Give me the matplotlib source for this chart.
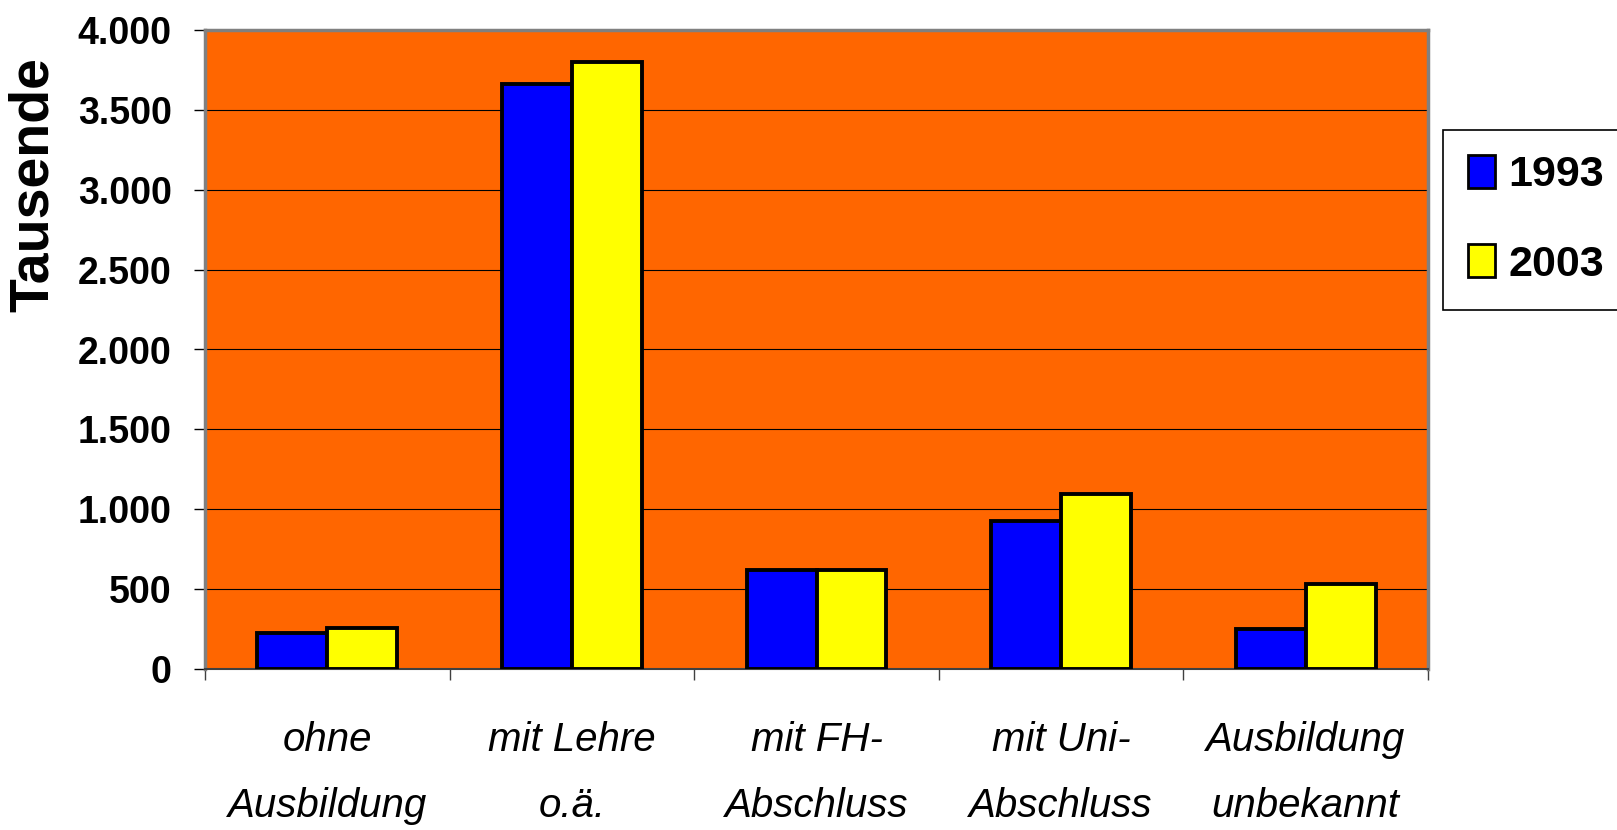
import matplotlib
matplotlib.use("Agg")
import matplotlib.pyplot as plt
import matplotlib.ticker as ticker
import matplotlib.transforms as transforms
from matplotlib.patches import Patch
import numpy as np

categories = ['ohne\nAusbildung', 'mit Lehre\no.ä.', 'mit FH-\nAbschluss',
              'mit Uni-\nAbschluss', 'Ausbildung\nunbekannt']
years = ['1993', '2003']
v1993 = [225, 3660, 620, 926, 250]
v2003 = [255, 3800, 620, 1095, 532]
yticks = [0, 500, 1000, 1500, 2000, 2500, 3000, 3500, 4000]

# no narrow face installed, so plain Arial-metric font at smaller sizes
fam = ['Liberation Sans', 'DejaVu Sans']

fig = plt.figure(figsize=(16.17, 8.3), dpi=100)
ax = fig.add_axes([205/1617, 1 - 669/830, (1428-205)/1617, (669-30)/830])
ax.set_facecolor('#FF6600')

x = np.arange(len(categories))
w = 1 / 3.5  # gap width 150%
ax.bar(x - w/2, v1993, w, color='#0000FF', edgecolor='black', linewidth=2.8, zorder=3)
ax.bar(x + w/2, v2003, w, color='#FFFF00', edgecolor='black', linewidth=2.8, zorder=3)

ax.set_xlim(-0.5, len(categories) - 0.5)
ax.set_ylim(0, 4000)
ax.set_yticks(yticks)
ax.set_yticklabels([f"{v:,}".replace(',', '.') for v in yticks],
                   fontfamily=fam, fontweight='bold', fontsize=27)
ax.yaxis.grid(True, color='black', linewidth=0.8, zorder=1)
ax.set_axisbelow(True)

# category boundaries as ticks, labels as text under the centres
ax.xaxis.set_major_locator(ticker.FixedLocator(np.arange(-0.5, len(categories), 1)))
ax.xaxis.set_major_formatter(ticker.NullFormatter())
ax.tick_params(axis='x', length=8, width=1, color='#404040', direction='out')
ax.tick_params(axis='y', length=8, width=1, color='black', direction='out', pad=16)

trans = transforms.blended_transform_factory(ax.transData, fig.transFigure)
for i, lab in enumerate(categories):
    top, bot = lab.split('\n')
    ax.text(i, 1 - 740/830, top, transform=trans, ha='center', va='center',
            fontfamily=fam, fontstyle='italic', fontsize=29)
    ax.text(i, 1 - 806/830, bot, transform=trans, ha='center', va='center',
            fontfamily=fam, fontstyle='italic', fontsize=29)

for side in ['left', 'top', 'right']:
    ax.spines[side].set_color('#808080')
    ax.spines[side].set_linewidth(2.5)
ax.spines['bottom'].set_color('#404040')
ax.spines['bottom'].set_linewidth(1.5)

fig.text(34/1617, 1 - 185/830, 'Tausende', rotation=90, ha='center', va='center',
         fontfamily=fam, fontweight='bold', fontsize=40)

handles = [Patch(facecolor='#0000FF', edgecolor='black', linewidth=2),
           Patch(facecolor='#FFFF00', edgecolor='black', linewidth=2)]
leg = fig.legend(handles, years, loc='upper left',
                 bbox_to_anchor=(1443/1617, 1 - 130/830),
                 prop={'family': fam, 'weight': 'bold', 'size': 31},
                 handlelength=0.63, handleheight=0.79, handletextpad=0.3,
                 labelspacing=1.14, borderpad=0.58, borderaxespad=0,
                 fancybox=False, framealpha=1, edgecolor='black')
leg.get_frame().set_linewidth(1.2)

fig.savefig('out.png', dpi=100)
